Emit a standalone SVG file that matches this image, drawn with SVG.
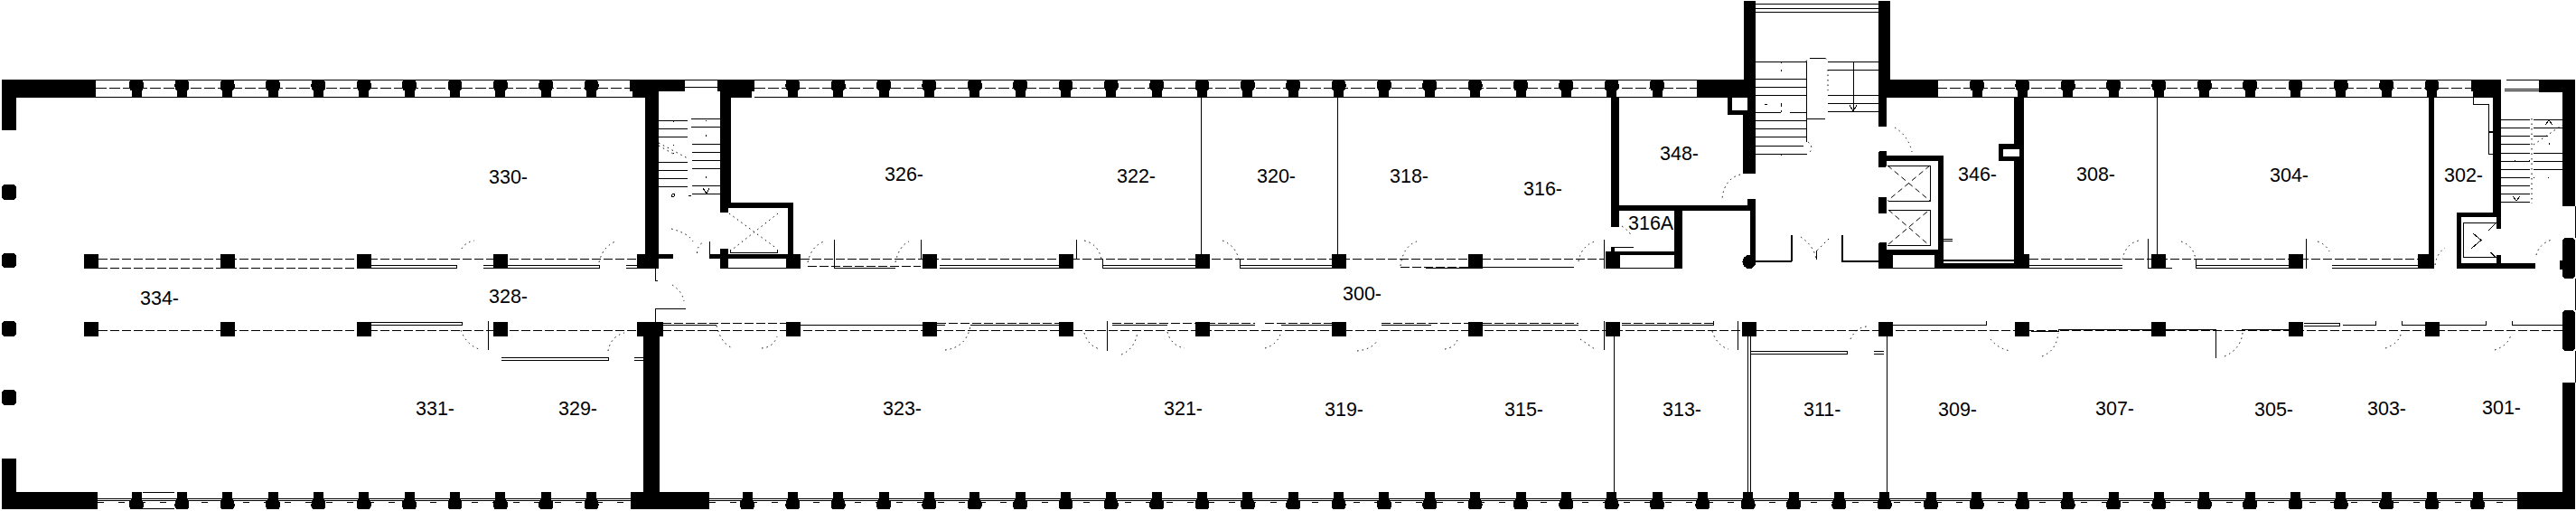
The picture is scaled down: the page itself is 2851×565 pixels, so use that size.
<svg xmlns="http://www.w3.org/2000/svg" xmlns:xlink="http://www.w3.org/1999/xlink" width="2851" height="565" viewBox="0 0 2851 565">
<style>
.w{fill:#000;stroke:none;shape-rendering:crispEdges}
.l{fill:none;stroke:#000;stroke-width:1;shape-rendering:crispEdges}
.d{fill:none;stroke:#000;stroke-width:1;stroke-dasharray:10 3;shape-rendering:crispEdges}
.a{fill:none;stroke:#000;stroke-width:1;stroke-dasharray:1.5 4}
.x{fill:none;stroke:#000;stroke-width:1;stroke-dasharray:6 4}
text{font-family:"Liberation Sans",Arial,sans-serif;font-size:21.5px;fill:#000}
</style>
<defs>
<path id="pt" d="M-6 88H6Q8 90 8 94Q8 99 6 100H5.500V108H-5.500V100H-6Q-8 99 -8 94Q-8 90 -6 88Z"/>
<path id="pb" d="M-5.500 544H5.500V552H6Q8 554 8 558Q8 562 6 563H-6Q-8 562 -8 558Q-8 554 -6 552H-5.500Z"/>
<rect id="c" x="-8" y="281" width="16" height="16"/>
<rect id="e" x="-8" y="356" width="16" height="16"/>
</defs>
<rect width="2851" height="565" fill="#fff"/>
<g id="glazing">
<path class="l" d="M106 88.500H700M758 88.500H794M835 88.500H1878M2092 88.500H2737M2774 88.500H2810M106 107.500H700M835 107.500H1878M2143 107.500H2737"/>
<path class="l" d="M729 96.500H797M2772 98.500H2812M2772 100.500H2812"/>
<path class="d" style="stroke-dasharray:12 3" d="M106 97.500H700M835 97.500H1878M2143 97.500H2737"/>
<path class="l" d="M108 551.500H698M785 551.500H2786M108 553.500H698M785 553.500H2786M158 544.500H193M158 562.500H193"/>
<path class="d" style="stroke-dasharray:7 16" d="M108 555.500H698M785 555.500H2786"/>
</g>
<g id="interior-partitions">
<path class="d" d="M109 286.500H705M109 296.500H395M109 365.500H705M733 365.500H2836M733 357.500H870M886 286.500H1776M894 294.500H1019M1550 295.500H1742M2246 286.500H2676M1400 357.500H1474M1529 357.500H1625M1641 357.500H1747M1795 357.500H1896M1037 357.500H1172M1231 357.500H1389"/>
<path class="l" d="M411 293.500H505M411 296.500H505V293M535 293.500H663M535 296.500H663V293M693 293.500H705M693 296.500H705M411 356.500H511M411 359.500H511V356M555 395.500H673M555 398.500H673V395M701.500 395.500H712M701.500 398.500H712"/>
<path class="l" d="M1040 293.500H1172M1040 296.500H1172M1220 293.500H1323M1220 296.500H1323M1220 286V296M1372 293.500H1474M1372 296.500H1474M1372 286V296M1578 296.500H1625M1641 295.500H1742M2246 293.500H2349M2246 296.500H2349M2377 296.500H2381M2397 296.500H2404M2430 293.500H2533M2430 296.500H2533M2430 287V296M2581 293.500H2676M2581 296.500H2676"/>
<path class="l" d="M923.500 265V296.500H991M1019.500 265V287M1191.500 265V287M1775.500 265V297M2377.500 264V297M2552.500 264V297"/>
<path class="l" d="M734 359.500H793M886 359.500H1021M1037 359.500H1046M1074 359.500H1172M1231 359.500H1292M1339 359.500H1389M1418 359.500H1474M1529 359.500H1584M1641 359.500H1747M1795 359.500H1896V355M2095 359.500H2198V355"/>
<path class="l" d="M540.500 355V387M1225.500 355V388M1775.500 355V387M1923.500 355V387M2452.500 364V396M2248 366.500H2278V364.500H2381M2397 364.500H2452.500M2481 364.500H2533M2550 357.500H2589M2550 360.500H2589V357M2593 359.500H2629V355M2658 355V359.500H2684M2700 359.500H2751V355M2780 355V359.500H2836"/>
<path class="l" d="M725.500 296.500V310H728M725.500 356V341.500H759M785.500 267V281"/>
<path class="l" d="M1938 388.500H2044M1938 391.500H2044V388M2073.500 388.500H2085M2073.500 391.500H2085"/>
<path class="l" d="M1329.500 108V281M1480.500 108V281M2387.500 108V281M1786.500 372V544M1934.500 372V544M1937.500 372V544M2088.500 372V544"/>
<path class="l" d="M2737.500 100V115.500H2754.500V145.500H2759M2759 146.500H2754.500V170.500H2759"/>
</g>
<g id="walls">
<rect class="w" x="2" y="88" width="104" height="20"/>
<rect class="w" x="2" y="88" width="16" height="56"/>
<rect class="w" x="2" y="204" width="16" height="17" rx="4"/>
<rect class="w" x="2" y="280" width="16" height="16" rx="4"/>
<rect class="w" x="2" y="355" width="16" height="17" rx="4"/>
<rect class="w" x="2" y="431" width="16" height="17" rx="4"/>
<rect class="w" x="2" y="507" width="16" height="56"/>
<rect class="w" x="2" y="544" width="106" height="19"/>
<rect class="w" x="697" y="88" width="61" height="13"/>
<rect class="w" x="700" y="100" width="29" height="8"/>
<rect class="w" x="714" y="108" width="15" height="173"/>
<rect class="w" x="705" y="281" width="24" height="16"/>
<rect class="w" x="729" y="281" width="16" height="5"/>
<rect class="w" x="794" y="88" width="41" height="13"/>
<rect class="w" x="797" y="100" width="35" height="8"/>
<rect class="w" x="797" y="108" width="12" height="116"/>
<rect class="w" x="797" y="224" width="9" height="11"/>
<rect class="w" x="797" y="224" width="81" height="6"/>
<rect class="w" x="872" y="224" width="6" height="57"/>
<rect class="w" x="785" y="281" width="85" height="5"/>
<rect class="w" x="797" y="275" width="9" height="22"/>
<rect class="w" x="797" y="296" width="73" height="1"/>
<rect class="w" x="705" y="356" width="29" height="16"/>
<rect class="w" x="712" y="372" width="18" height="172"/>
<rect class="w" x="698" y="544" width="87" height="19"/>
<rect class="w" x="1878" y="88" width="52" height="20"/>
<rect class="w" x="1930" y="1" width="13" height="107"/>
<rect class="w" x="1912" y="108" width="5" height="19"/>
<rect class="w" x="1912" y="122" width="18" height="5"/>
<rect class="w" x="1934" y="108" width="9" height="14"/>
<rect class="w" x="1929" y="122" width="14" height="70"/>
<rect class="w" x="1934" y="220" width="9" height="10"/>
<rect class="w" x="1937" y="220" width="6" height="68"/>
<rect class="w" x="1788" y="227" width="149" height="6"/>
<rect class="w" x="1783" y="108" width="9" height="143"/>
<rect class="w" x="1853" y="233" width="9" height="64"/>
<rect class="w" x="1783" y="278" width="74" height="4"/>
<rect class="w" x="1777" y="278" width="16" height="19"/>
<rect class="w" x="1793" y="296" width="60" height="1"/>
<rect class="w" x="1783" y="273" width="25" height="1"/>
<rect class="w" x="1783" y="273" width="4" height="5"/>
<circle class="w" cx="1936" cy="289.500" r="7.500"/>
<rect class="w" x="1943" y="287.500" width="40" height="2"/>
<rect class="w" x="2038" y="287.500" width="41" height="2"/>
<rect class="w" x="1982" y="260" width="1.500" height="29"/>
<rect class="w" x="2038" y="260" width="1.500" height="29"/>
<rect class="w" x="2079" y="1" width="13" height="107"/>
<rect class="w" x="2079" y="108" width="9" height="32"/>
<rect class="w" x="2092" y="88" width="53" height="20"/>
<rect class="w" x="2079" y="167" width="9" height="18" rx="2"/>
<rect class="w" x="2079" y="218" width="9" height="18"/>
<rect class="w" x="2079" y="268" width="9" height="29" rx="2"/>
<rect class="w" x="2088" y="172" width="62" height="6"/>
<rect class="w" x="2145" y="172" width="6" height="125"/>
<rect class="w" x="2088" y="276" width="57" height="6"/>
<rect class="w" x="2079" y="282" width="16" height="15"/>
<rect class="w" x="2141" y="282" width="10" height="15"/>
<rect class="w" x="2095" y="296" width="46" height="1"/>
<rect class="w" x="2150" y="291" width="80" height="6"/>
<rect class="w" x="2151" y="287" width="78" height="1.500"/>
<rect class="w" x="2229" y="108" width="11" height="173"/>
<rect class="w" x="2229" y="281" width="17" height="16"/>
<path class="w" fill-rule="evenodd" d="M2212 159H2229V178H2212ZM2217 165V173H2229V165Z"/>
<rect x="2229" y="165" width="6" height="8" fill="#fff" shape-rendering="crispEdges"/>
<rect class="w" x="2688" y="108" width="6" height="173"/>
<rect class="w" x="2676" y="281" width="18" height="16"/>
<rect class="w" x="2735" y="88" width="33" height="13"/>
<rect class="w" x="2737" y="100" width="31" height="8"/>
<rect class="w" x="2759" y="108" width="9" height="132"/>
<rect class="w" x="2763" y="240" width="5" height="13"/>
<rect class="w" x="2719" y="235" width="49" height="5"/>
<rect class="w" x="2719" y="235" width="5" height="62"/>
<rect class="w" x="2719" y="291" width="87" height="6"/>
<rect class="w" x="2763" y="282" width="5" height="9"/>
<rect class="w" x="2810" y="88" width="40" height="14"/>
<rect class="w" x="2836" y="88" width="14" height="140"/>
<rect class="w" x="2836" y="263" width="14" height="45" rx="4"/>
<rect class="w" x="2833" y="288" width="4" height="10"/>
<rect class="w" x="2836" y="343" width="14" height="45" rx="4"/>
<rect class="w" x="2836" y="423" width="14" height="140"/>
<rect class="w" x="2786" y="544" width="64" height="19"/>
<path class="l" d="M2850.500 228V263M2850.500 308V343M2850.500 388V423"/>
</g>
<g id="piers" class="w">
<use xlink:href="#pt" x="151"/><use xlink:href="#pt" x="201.400"/><use xlink:href="#pt" x="251.700"/><use xlink:href="#pt" x="302"/><use xlink:href="#pt" x="352.400"/><use xlink:href="#pt" x="402.800"/><use xlink:href="#pt" x="453"/><use xlink:href="#pt" x="503.500"/><use xlink:href="#pt" x="553.900"/><use xlink:href="#pt" x="604.200"/><use xlink:href="#pt" x="654.600"/>
<use xlink:href="#pt" x="877.400"/><use xlink:href="#pt" x="927.700"/><use xlink:href="#pt" x="978.100"/><use xlink:href="#pt" x="1028.400"/><use xlink:href="#pt" x="1078.800"/><use xlink:href="#pt" x="1129.100"/><use xlink:href="#pt" x="1179.500"/><use xlink:href="#pt" x="1229.800"/><use xlink:href="#pt" x="1280.200"/><use xlink:href="#pt" x="1330.500"/><use xlink:href="#pt" x="1380.900"/><use xlink:href="#pt" x="1431.200"/><use xlink:href="#pt" x="1481.600"/><use xlink:href="#pt" x="1531.900"/><use xlink:href="#pt" x="1582.300"/><use xlink:href="#pt" x="1632.600"/><use xlink:href="#pt" x="1683"/><use xlink:href="#pt" x="1733.300"/><use xlink:href="#pt" x="1783.700"/><use xlink:href="#pt" x="1834"/>
<use xlink:href="#pt" x="2188"/><use xlink:href="#pt" x="2238.400"/><use xlink:href="#pt" x="2288.700"/><use xlink:href="#pt" x="2339.100"/><use xlink:href="#pt" x="2389.400"/><use xlink:href="#pt" x="2439.800"/><use xlink:href="#pt" x="2490.100"/><use xlink:href="#pt" x="2540.500"/><use xlink:href="#pt" x="2590.800"/><use xlink:href="#pt" x="2641.200"/><use xlink:href="#pt" x="2691.500"/>
<use xlink:href="#pb" x="151"/><use xlink:href="#pb" x="201.400"/><use xlink:href="#pb" x="251.700"/><use xlink:href="#pb" x="302"/><use xlink:href="#pb" x="352.400"/><use xlink:href="#pb" x="402.800"/><use xlink:href="#pb" x="453"/><use xlink:href="#pb" x="503.500"/><use xlink:href="#pb" x="553.900"/><use xlink:href="#pb" x="604.200"/><use xlink:href="#pb" x="654.600"/>
<use xlink:href="#pb" x="827"/><use xlink:href="#pb" x="877.400"/><use xlink:href="#pb" x="927.700"/><use xlink:href="#pb" x="978.100"/><use xlink:href="#pb" x="1028.400"/><use xlink:href="#pb" x="1078.800"/><use xlink:href="#pb" x="1129.100"/><use xlink:href="#pb" x="1179.500"/><use xlink:href="#pb" x="1229.800"/><use xlink:href="#pb" x="1280.200"/><use xlink:href="#pb" x="1330.500"/><use xlink:href="#pb" x="1380.900"/><use xlink:href="#pb" x="1431.200"/><use xlink:href="#pb" x="1481.600"/><use xlink:href="#pb" x="1531.900"/><use xlink:href="#pb" x="1582.300"/><use xlink:href="#pb" x="1632.600"/><use xlink:href="#pb" x="1683"/><use xlink:href="#pb" x="1733.300"/><use xlink:href="#pb" x="1783.700"/><use xlink:href="#pb" x="1834"/><use xlink:href="#pb" x="1884.400"/><use xlink:href="#pb" x="1934.700"/><use xlink:href="#pb" x="1985.100"/><use xlink:href="#pb" x="2035.400"/><use xlink:href="#pb" x="2085.800"/><use xlink:href="#pb" x="2137"/><use xlink:href="#pb" x="2187.800"/><use xlink:href="#pb" x="2238.400"/><use xlink:href="#pb" x="2288.700"/><use xlink:href="#pb" x="2339.100"/><use xlink:href="#pb" x="2389.400"/><use xlink:href="#pb" x="2439.800"/><use xlink:href="#pb" x="2490.100"/><use xlink:href="#pb" x="2540.500"/><use xlink:href="#pb" x="2590.800"/><use xlink:href="#pb" x="2641.200"/><use xlink:href="#pb" x="2691.500"/><use xlink:href="#pb" x="2742"/>
</g>
<g id="columns" class="w">
<use xlink:href="#c" x="101"/><use xlink:href="#c" x="252"/><use xlink:href="#c" x="403"/><use xlink:href="#c" x="554"/><use xlink:href="#c" x="878"/><use xlink:href="#c" x="1029"/><use xlink:href="#c" x="1180"/><use xlink:href="#c" x="1331"/><use xlink:href="#c" x="1482"/><use xlink:href="#c" x="1633"/><use xlink:href="#c" x="2389"/><use xlink:href="#c" x="2541"/>
<use xlink:href="#e" x="101"/><use xlink:href="#e" x="252"/><use xlink:href="#e" x="403"/><use xlink:href="#e" x="554"/><use xlink:href="#e" x="878"/><use xlink:href="#e" x="1029"/><use xlink:href="#e" x="1180"/><use xlink:href="#e" x="1331"/><use xlink:href="#e" x="1482"/><use xlink:href="#e" x="1633"/><use xlink:href="#e" x="1785"/><use xlink:href="#e" x="1936"/><use xlink:href="#e" x="2087"/><use xlink:href="#e" x="2238"/><use xlink:href="#e" x="2389"/><use xlink:href="#e" x="2541"/><use xlink:href="#e" x="2692"/>
</g>
<g id="stairs">
<path class="l" d="M729 133.500H761M729 142.500H761M729 151.500H761M729 179.500H761M729 188.500H761M729 197.500H761M729 206.500H761M765 131.500H797M765 140.500H797M766 159.500H797M766 168.500H797M766 177.500H797M766 186.500H797M766 205.500H797M766 214.500H797"/>
<path class="a" d="M729 158L761 175M729 161L745 170"/>
<circle class="l" cx="745" cy="216" r="1.500"/>
<path class="l" d="M745 134V135M781 133V134M781 149V151M745 160V161M745 169V170M781 195V197M778 208L782 214L785 208M762 216H765"/>
<path class="l" d="M1943 4.500H2079M1943 9.500H2079M1943 13.500H2079"/>
<path class="l" d="M1943 68.500H1999M1943 87.500H1999M1943 96.500H1999M1943 105.500H1999M1943 124.500H1971M1981 124.500H1999M1943 133.500H1999M1943 142.500H1999M1943 151.500H1999M1943 161.500H1996M1943 170.500H2000M1999.500 68V157M2023 68.500H2079M2023 77.500H2079M2023 105.500H2079M2023 114.500H2079M2023 123.500H2079M2051.500 68V123M2003 64.500H2020M1999 131.500H2020M1953 115.500H1956M1971 114V118M1971 68V70M1971 77V79M2047 116L2051 123L2055 116M1971 170V172M1971 122V124"/>
<path class="a" d="M1999 68Q2000 65 2003 64.500M2020 64.500Q2022 65 2023 68M2023 77V100M2001 157Q2008 162 2002 170"/>
<path class="l" d="M2767.700 132.500H2800M2767.700 141.500H2800M2767.700 150.500H2800M2767.700 159.500H2800M2767.700 169.500H2800M2767.700 178.500H2800M2767.700 187.500H2800M2767.700 196.500H2800M2767.700 205.500H2800M2767.700 214.500H2800M2767.700 223.500H2800M2804 132.500H2836M2804 141.500H2836M2804 150.500H2820M2804 169.500H2836M2804 178.500H2836M2804 187.500H2836M2781 217L2785 222L2789 217M2817 138L2821 133L2825 138M2821 158V160M2783 177V178M2799 177V178M2804 196V197M2820 196V197"/>
<path class="a" d="M2804 160L2836 138M2802 131V225"/>
</g>
<g id="lifts">
<path class="l" d="M2089 183.500H2136.500V222.500H2090M2090 232.500H2136.500V271.500H2089M808 279.500H860M808 276V280M860 276V280M2151 264.500H2161M2151 266.500H2161"/>
<path class="x" d="M2089 183L2136 222M2136 183L2089 222M2090 232L2135 271M2133 234L2089 271"/>
<path class="a" d="M807 236L860 275M861 236L809 277"/>
<path class="l" d="M2726.500 284.500V246.500H2763M2726.500 284.500H2763M2737 258L2746 265.500L2735 275M2754 255L2761.500 247.500M2756.500 279L2761.500 284"/>
</g>
<g id="door-swings">
<path class="a" d="M511 275Q515 268 525 266M510 365Q516 381 530 386M663 290Q667 273 681 267M673 388Q676 372 691 368M743 253Q762 258 767 267M771.500 280Q772 270 779 268M744 315Q755 322 757 333M894 290Q898 272 912 267M991 290Q995 272 1006 267M1200 266Q1216 270 1219 287M1353 266Q1368 272 1371 287M793 360Q798 380 811 385M843 385Q856 384 860 372M1046 387Q1070 384 1074 360M1200 368Q1204 382 1217 386M1241 392Q1256 386 1259 367M1292 367Q1296 382 1311 385M1400 385Q1416 380 1418 365M1550 294Q1553 272 1568 267M1747 289Q1750 272 1765 267M1749 375L1765 386M1895 366Q1900 382 1913 386M2048 375Q2054 362 2066 361M1599 386Q1612 384 1614 372M1502 388Q1520 386 1525 375M1926 193Q1908 198 1906 220M1993 262Q2008 272 2010 287M2024 264L2011 277M2097 141Q2112 150 2116 168M1795 250Q1804 256 1806 262M2349 287Q2352 270 2367 266M2414 267Q2428 272 2430 287M2565 267Q2574 270 2578 278M2203 375Q2212 386 2225 388M2260 394Q2276 388 2278 368M2462 394Q2480 386 2482 368M2640 385Q2654 380 2657 370M2761 387Q2776 382 2779 370M2695 293Q2697 280 2706 274M2807 282Q2810 270 2824 265"/>
<path class="l" d="M2010.500 277V287"/>
</g>
<g id="room-labels">
<text x="541" y="203">330-</text>
<text x="155" y="337">334-</text>
<text x="541" y="335">328-</text>
<text x="460" y="459">331-</text>
<text x="618" y="459">329-</text>
<text x="979" y="200">326-</text>
<text x="1236" y="202">322-</text>
<text x="1391" y="202">320-</text>
<text x="977" y="459">323-</text>
<text x="1288" y="459">321-</text>
<text x="1538" y="202">318-</text>
<text x="1686" y="216">316-</text>
<text x="1837" y="177">348-</text>
<text x="1802" y="254">316A</text>
<text x="1486" y="332">300-</text>
<text x="1466" y="460">319-</text>
<text x="1665" y="460">315-</text>
<text x="1840" y="460">313-</text>
<text x="1996" y="460">311-</text>
<text x="2145" y="460">309-</text>
<text x="2167" y="200">346-</text>
<text x="2298" y="200">308-</text>
<text x="2512" y="201">304-</text>
<text x="2705" y="201">302-</text>
<text x="2319" y="459">307-</text>
<text x="2495" y="460">305-</text>
<text x="2620" y="459">303-</text>
<text x="2747" y="458">301-</text>
</g>
</svg>
